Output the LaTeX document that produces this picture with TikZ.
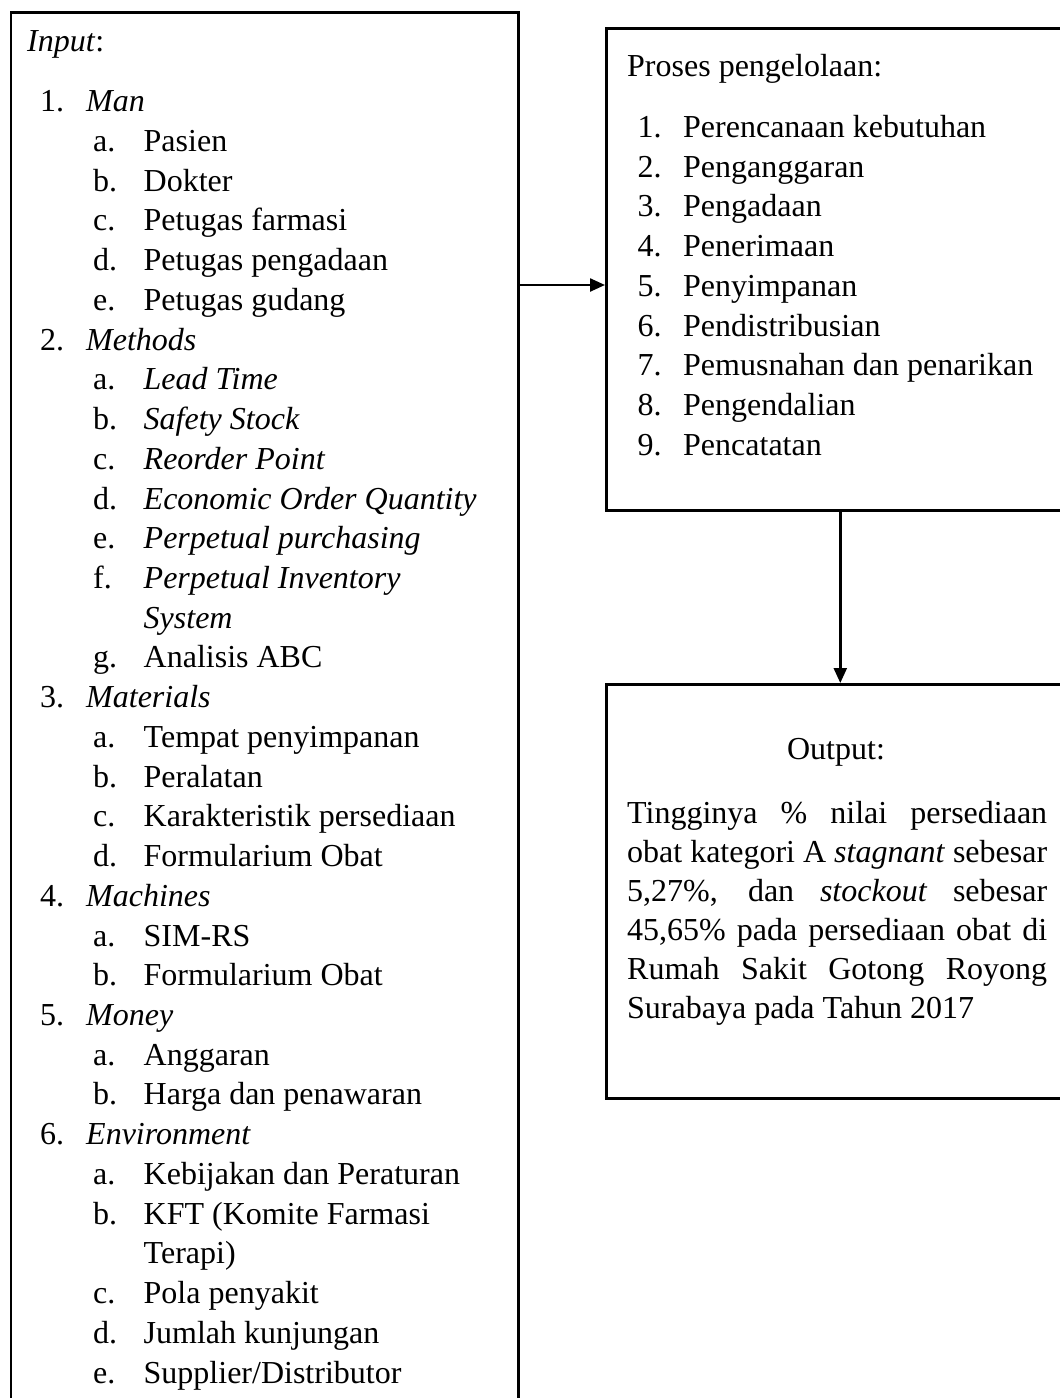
\documentclass[tikz,border=0pt]{standalone}
\usepackage{fontspec}
\setmainfont{Liberation Serif}
\usetikzlibrary{arrows.meta}
\newcommand\bodyfont{\fontsize{32pt}{39.7pt}\selectfont}
\begin{document}
\begin{tikzpicture}[x=1pt,y=-1pt,
  boxstyle/.style={draw=black, line width=2.6pt, rectangle, inner sep=0pt, anchor=north west},
  ln/.style={anchor=base west, inner sep=0pt, font=\bodyfont},
  arr/.style={line width=2.4pt, -{Triangle[length=15pt,width=13pt]}}]
\useasboundingbox (0,0) rectangle (1060,1398);
% boxes
\node[boxstyle, minimum width=507.5pt, minimum height=1420pt] (inbox) at (9.5,11) {};
\node[boxstyle, minimum width=468pt, minimum height=482pt] (proc) at (605,27) {};
\node[boxstyle, minimum width=468pt, minimum height=414pt] (outbox) at (605,683) {};
% connectors
\coordinate (a1) at (0,285);
\draw[arr] (inbox.east |- a1) -- (proc.west |- a1);
\draw[arr] (proc.south) -- (outbox.north);
% ---- Input box
\node[ln] (inhead) at (27,51) {\textit{Input}:};
\newcommand\NumL[3]{%
  \node[ln] (n#1) at (40,{111.7+#1*39.73}) {#2};
  \node[ln] (t#1) at (86,{111.7+#1*39.73}) {#3};}
\newcommand\SubL[3]{%
  \node[ln] (n#1) at (93,{111.7+#1*39.73}) {#2};
  \node[ln] (t#1) at (143.5,{111.7+#1*39.73}) {#3};}
\newcommand\ContL[2]{%
  \node[ln] (t#1) at (143.5,{111.7+#1*39.73}) {#2};}
\NumL{0}{1.}{\textit{Man}}
\SubL{1}{a.}{Pasien}
\SubL{2}{b.}{Dokter}
\SubL{3}{c.}{Petugas farmasi}
\SubL{4}{d.}{Petugas pengadaan}
\SubL{5}{e.}{Petugas gudang}
\NumL{6}{2.}{\textit{Methods}}
\SubL{7}{a.}{\textit{Lead Time}}
\SubL{8}{b.}{\textit{Safety Stock}}
\SubL{9}{c.}{\textit{Reorder Point}}
\SubL{10}{d.}{\textit{Economic Order Quantity}}
\SubL{11}{e.}{\textit{Perpetual purchasing}}
\SubL{12}{f.}{\textit{Perpetual Inventory}}
\ContL{13}{\textit{System}}
\SubL{14}{g.}{Analisis ABC}
\NumL{15}{3.}{\textit{Materials}}
\SubL{16}{a.}{Tempat penyimpanan}
\SubL{17}{b.}{Peralatan}
\SubL{18}{c.}{Karakteristik persediaan}
\SubL{19}{d.}{Formularium Obat}
\NumL{20}{4.}{\textit{Machines}}
\SubL{21}{a.}{SIM-RS}
\SubL{22}{b.}{Formularium Obat}
\NumL{23}{5.}{\textit{Money}}
\SubL{24}{a.}{Anggaran}
\SubL{25}{b.}{Harga dan penawaran}
\NumL{26}{6.}{\textit{Environment}}
\SubL{27}{a.}{Kebijakan dan Peraturan}
\SubL{28}{b.}{KFT (Komite Farmasi}
\ContL{29}{Terapi)}
\SubL{30}{c.}{Pola penyakit}
\SubL{31}{d.}{Jumlah kunjungan}
\SubL{32}{e.}{Supplier/Distributor}
% ---- Process box
\node[ln] (phead) at (627,76) {Proses pengelolaan:};
\newcommand\ProcL[3]{%
  \node[ln] (pn#1) at (637.5,{137.5+#1*39.7}) {#2};
  \node[ln] (pt#1) at (683,{137.5+#1*39.7}) {#3};}
\ProcL{0}{1.}{Perencanaan kebutuhan}
\ProcL{1}{2.}{Penganggaran}
\ProcL{2}{3.}{Pengadaan}
\ProcL{3}{4.}{Penerimaan}
\ProcL{4}{5.}{Penyimpanan}
\ProcL{5}{6.}{Pendistribusian}
\ProcL{6}{7.}{Pemusnahan dan penarikan}
\ProcL{7}{8.}{Pengendalian}
\ProcL{8}{9.}{Pencatatan}
% ---- Output box
\node[ln, anchor=base] (ohead) at (836,759) {Output:};
\newcommand\OutL[2]{%
  \node[ln] (o#1) at (627,{823.3+#1*39}) {#2};}
\OutL{0}{\makebox[420pt][s]{Tingginya \% nilai persediaan}}
\OutL{1}{\makebox[420pt][s]{obat kategori A \textit{stagnant} sebesar}}
\OutL{2}{\makebox[420pt][s]{5,27\%, dan \textit{stockout} sebesar}}
\OutL{3}{\makebox[420pt][s]{45,65\% pada persediaan obat di}}
\OutL{4}{\makebox[420pt][s]{Rumah Sakit Gotong Royong}}
\OutL{5}{Surabaya pada Tahun 2017}
\end{tikzpicture}
\end{document}
